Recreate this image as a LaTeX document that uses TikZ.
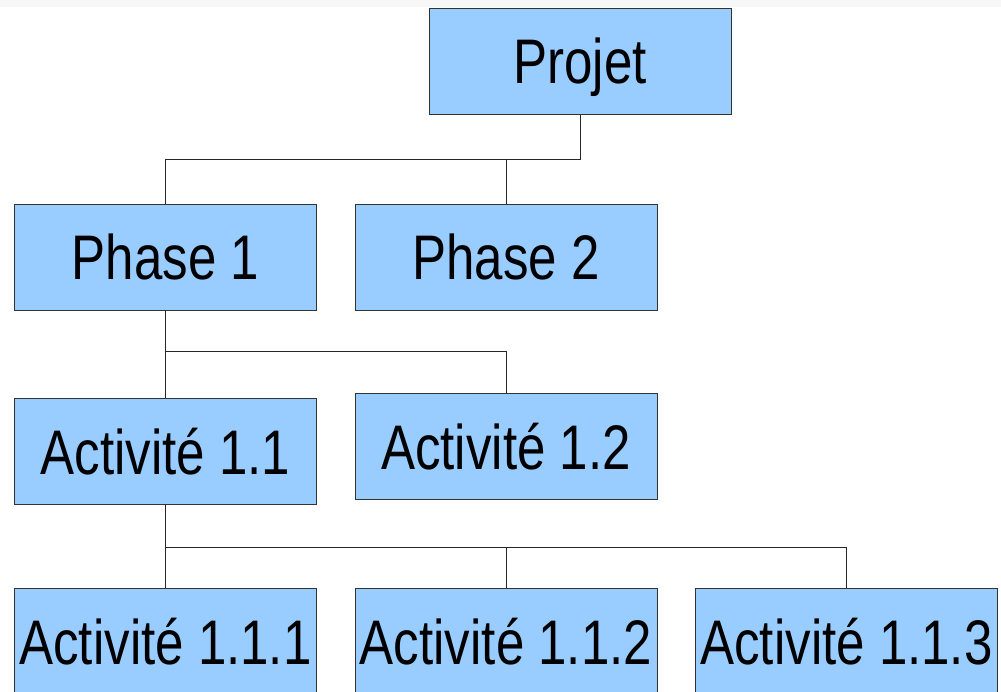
\documentclass[tikz,border=0pt]{standalone}
\usepackage{fontspec}
\setmainfont[FakeStretch=0.81]{Liberation Sans}
\begin{document}
\begin{tikzpicture}[x=1pt,y=-1pt,
  wbsbox/.style={draw=black!80, line width=1pt, fill=boxblue,
    minimum width=302pt, minimum height=106pt, inner sep=0pt,
    text height=45pt, text depth=0pt, font=\fontsize{63pt}{63pt}\selectfont},
  link/.style={draw=black!85, line width=1pt}]
\definecolor{boxblue}{HTML}{99CCFF}
\useasboundingbox (0,0) rectangle (1001,692);
\clip (0,0) rectangle (1001,692);
\fill[black!3] (0,0) rectangle (1001,7);

% boxes
\node[wbsbox] (proj) at (580,61.5) {Projet};
\node[wbsbox] (ph1) at (165.5,257.5) {Phase 1};
\node[wbsbox] (ph2) at (506,257.5) {Phase 2};
\node[wbsbox] (a11) at (165.5,451.5) {Activité 1.1};
\node[wbsbox] (a12) at (506,446.5) {Activité 1.2};
\node[wbsbox] (a111) at (165.5,641.5) {Activité 1.1.1};
\node[wbsbox] (a112) at (506,641.5) {Activité 1.1.2};
\node[wbsbox] (a113) at (846.5,641.5) {Activité 1.1.3};

% junction points of the connectors
\coordinate (j0) at (proj.south |- 0,160);
\coordinate (j1) at (ph1.south |- 0,352);
\coordinate (j2) at (a11.south |- 0,547);

% connectors
\draw[link] (proj.south) -- (j0) -| (ph1.north);
\draw[link] (j0) -| (ph2.north);
\draw[link] (ph1.south) -- (j1) -- (a11.north);
\draw[link] (j1) -| (a12.north);
\draw[link] (a11.south) -- (j2) -- (a111.north);
\draw[link] (j2) -| (a112.north);
\draw[link] (j2) -| (a113.north);
\end{tikzpicture}
\end{document}
